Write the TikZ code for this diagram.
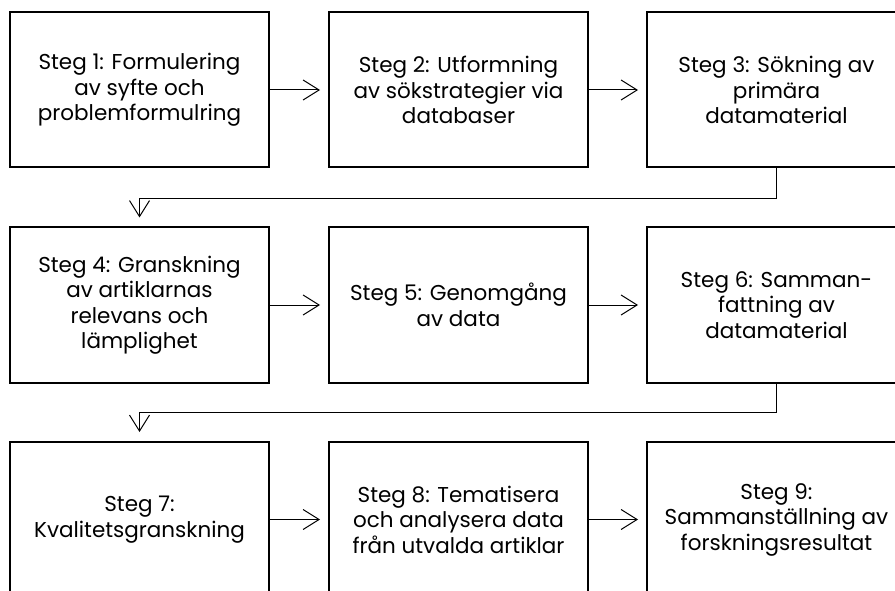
\documentclass[tikz,border=0pt]{standalone}
\usepackage{fontspec}
\setmainfont{Poppins}
\usepackage{tikz}
\usetikzlibrary{arrows.meta}

\begin{document}
\begin{tikzpicture}[x=1pt,y=-1pt]
            \useasboundingbox (0,0) rectangle (895,591);
            \clip (0,0) rectangle (895,591);
            \begin{scope}[every node/.style={rectangle,draw,line width=2pt,
                          minimum width=259pt,minimum height=155pt,align=center,
                          font=\fontsize{21.5}{25.5}\selectfont}]
                \node (S1) at (139.5,90) {Steg 1: Formulering\\av syfte och\\problemformulring};
                \node (S2) at (458.5,90) {Steg 2: Utformning\\av sökstrategier via\\databaser};
                \node (S3) at (776.5,90) {Steg 3: Sökning av\\primära\\datamaterial};
                \node (S4) at (139.5,305) {Steg 4: Granskning\\av artiklarnas\\relevans och\\lämplighet};
                \node (S5) at (458.5,305) {Steg 5: Genomgång\\av data};
                \node (S6) at (776.5,305) {Steg 6: Samman-\\fattning av\\datamaterial};
                \node (S7) at (139.5,519.5) {Steg 7:\\Kvalitetsgranskning};
                \node (S8) at (458.5,519.5) {Steg 8: Tematisera\\och analysera data\\från utvalda artiklar};
                \node (S9) at (776.5,519.5) {Steg 9:\\Sammanställning av\\forskningsresultat};
            \end{scope}

            \begin{scope}[>={Straight Barb[length=16pt,width=20pt]},
                          every edge/.style={draw=black,line width=1pt,shorten >=8pt}]
                \path [->] (S1) edge (S2);
                \path [->] (S2) edge (S3);
                \path [->] (S4) edge (S5);
                \path [->] (S5) edge (S6);
                \path [->] (S7) edge (S8);
                \path [->] (S8) edge (S9);
                \draw [->,line width=1pt,shorten >=9pt] (S3.south) -- ++(0,30) -| (S4.north);
                \draw [->,line width=1pt,shorten >=9pt] (S6.south) -- ++(0,29) -| (S7.north);
            \end{scope}
            \end{tikzpicture}
\end{document}
